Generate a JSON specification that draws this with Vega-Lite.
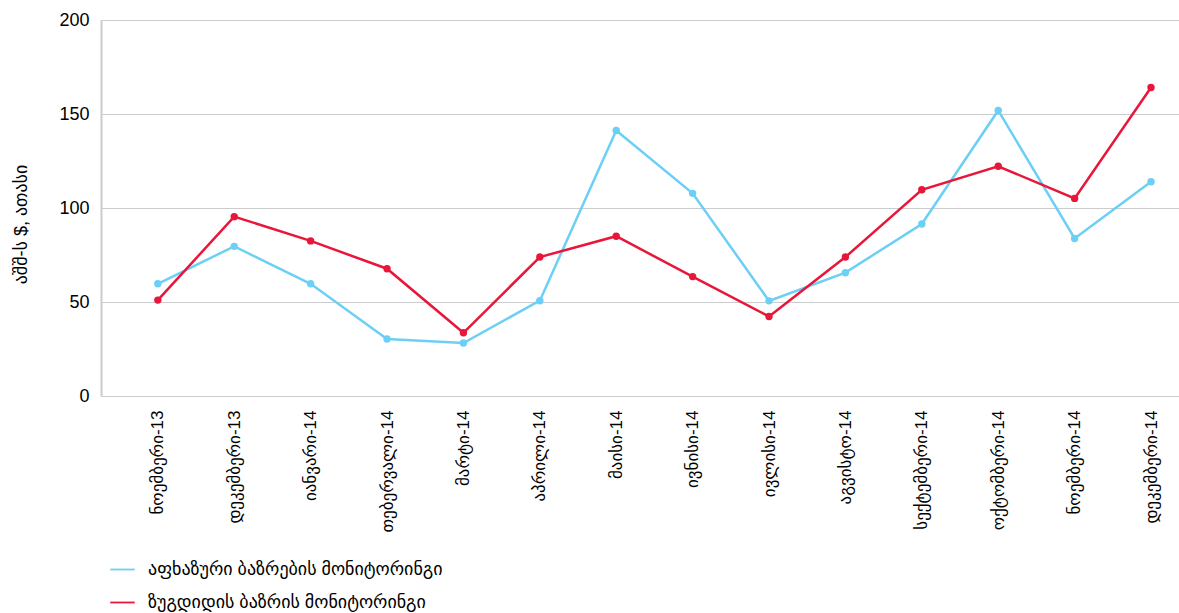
{
  "$schema": "https://vega.github.io/schema/vega-lite/v6.json",
  "width": 1078,
  "height": 376,
  "autosize": {"type": "none"},
  "padding": {"left": 101, "top": 20, "right": 0, "bottom": 217},
  "background": "white",
  "config": {
    "view": {"stroke": null},
    "font": "Liberation Sans, DejaVu Sans, sans-serif"
  },
  "data": {
    "values": [
      {"month": "ნოემბერი-13", "series": "აფხაზური ბაზრების მონიტორინგი", "value": 59.7},
      {"month": "დეკემბერი-13", "series": "აფხაზური ბაზრების მონიტორინგი", "value": 79.6},
      {"month": "იანვარი-14", "series": "აფხაზური ბაზრების მონიტორინგი", "value": 59.7},
      {"month": "თებერვალი-14", "series": "აფხაზური ბაზრების მონიტორინგი", "value": 30.3},
      {"month": "მარტი-14", "series": "აფხაზური ბაზრების მონიტორინგი", "value": 28.2},
      {"month": "აპრილი-14", "series": "აფხაზური ბაზრების მონიტორინგი", "value": 50.7},
      {"month": "მაისი-14", "series": "აფხაზური ბაზრების მონიტორინგი", "value": 141.2},
      {"month": "ივნისი-14", "series": "აფხაზური ბაზრების მონიტორინგი", "value": 107.8},
      {"month": "ივლისი-14", "series": "აფხაზური ბაზრების მონიტორინგი", "value": 50.6},
      {"month": "აგვისტო-14", "series": "აფხაზური ბაზრების მონიტორინგი", "value": 65.6},
      {"month": "სექტემბერი-14", "series": "აფხაზური ბაზრების მონიტორინგი", "value": 91.5},
      {"month": "ოქტომბერი-14", "series": "აფხაზური ბაზრების მონიტორინგი", "value": 151.9},
      {"month": "ნოემბერი-14", "series": "აფხაზური ბაზრების მონიტორინგი", "value": 83.8},
      {"month": "დეკემბერი-14", "series": "აფხაზური ბაზრების მონიტორინგი", "value": 114.0},
      {"month": "ნოემბერი-13", "series": "ზუგდიდის ბაზრის მონიტორინგი", "value": 51.0},
      {"month": "დეკემბერი-13", "series": "ზუგდიდის ბაზრის მონიტორინგი", "value": 95.4},
      {"month": "იანვარი-14", "series": "ზუგდიდის ბაზრის მონიტორინგი", "value": 82.5},
      {"month": "თებერვალი-14", "series": "ზუგდიდის ბაზრის მონიტორინგი", "value": 67.7},
      {"month": "მარტი-14", "series": "ზუგდიდის ბაზრის მონიტორინგი", "value": 33.6},
      {"month": "აპრილი-14", "series": "ზუგდიდის ბაზრის მონიტორინგი", "value": 73.9},
      {"month": "მაისი-14", "series": "ზუგდიდის ბაზრის მონიტორინგი", "value": 85.0},
      {"month": "ივნისი-14", "series": "ზუგდიდის ბაზრის მონიტორინგი", "value": 63.5},
      {"month": "ივლისი-14", "series": "ზუგდიდის ბაზრის მონიტორინგი", "value": 42.3},
      {"month": "აგვისტო-14", "series": "ზუგდიდის ბაზრის მონიტორინგი", "value": 73.9},
      {"month": "სექტემბერი-14", "series": "ზუგდიდის ბაზრის მონიტორინგი", "value": 109.7},
      {"month": "ოქტომბერი-14", "series": "ზუგდიდის ბაზრის მონიტორინგი", "value": 122.2},
      {"month": "ნოემბერი-14", "series": "ზუგდიდის ბაზრის მონიტორინგი", "value": 105.1},
      {"month": "დეკემბერი-14", "series": "ზუგდიდის ბაზრის მონიტორინგი", "value": 164.1}
    ]
  },
  "mark": {
    "type": "line",
    "strokeWidth": 2.5,
    "point": {"filled": true, "size": 55, "opacity": 1}
  },
  "encoding": {
    "x": {
      "field": "month",
      "type": "nominal",
      "sort": null,
      "scale": {"type": "point", "padding": 0.555, "align": 0.67},
      "axis": {
        "title": null,
        "labelAngle": -90,
        "labelFontSize": 17,
        "labelColor": "#000000",
        "labelPadding": 14,
        "domain": false,
        "ticks": false,
        "grid": false
      }
    },
    "y": {
      "field": "value",
      "type": "quantitative",
      "scale": {"domain": [0, 200], "nice": false},
      "axis": {
        "title": "აშშ-ს $, ათასი",
        "titleFontSize": 18,
        "titleFontWeight": "normal",
        "titleColor": "#000000",
        "titlePadding": 28,
        "titleY": 204,
        "values": [0, 50, 100, 150, 200],
        "labelFontSize": 18,
        "labelColor": "#000000",
        "labelPadding": 12,
        "ticks": false,
        "domain": true,
        "domainColor": "#cccccc",
        "domainWidth": 2,
        "grid": true,
        "gridColor": "#cccccc",
        "gridWidth": 1.2
      }
    },
    "color": {
      "field": "series",
      "type": "nominal",
      "sort": null,
      "scale": {
        "domain": ["აფხაზური ბაზრების მონიტორინგი", "ზუგდიდის ბაზრის მონიტორინგი"],
        "range": ["#6ccff6", "#e8173a"]
      },
      "legend": {
        "title": null,
        "orient": "none",
        "legendX": 8,
        "legendY": 536,
        "direction": "vertical",
        "symbolType": "stroke",
        "symbolSize": 600,
        "symbolStrokeWidth": 1.8,
        "labelFontSize": 18,
        "labelColor": "#000000",
        "labelLimit": 700,
        "rowPadding": 10,
        "labelOffset": 12
      }
    }
  }
}
